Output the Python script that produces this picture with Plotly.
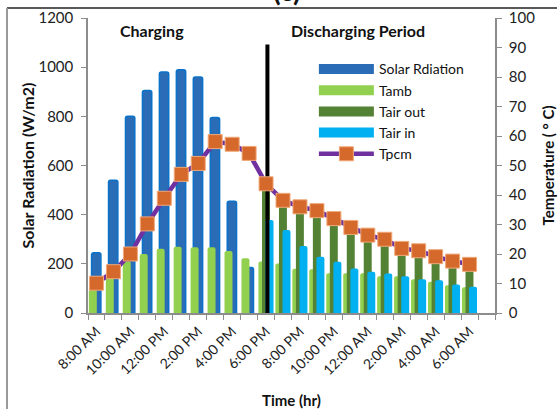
import plotly.graph_objects as go

# ---- data -------------------------------------------------------------
hours = [
    "8:00 AM", "9:00 AM", "10:00 AM", "11:00 AM", "12:00 PM", "1:00 PM",
    "2:00 PM", "3:00 PM", "4:00 PM", "5:00 PM", "6:00 PM", "7:00 PM",
    "8:00 PM", "9:00 PM", "10:00 PM", "11:00 PM", "12:00 AM", "1:00 AM",
    "2:00 AM", "3:00 AM", "4:00 AM", "5:00 AM", "6:00 AM", "7:00 AM",
]

# solar radiation, W/m2 (charging hours only)
solar = [245, 540, 800, 905, 980, 990, 960, 795, 455, 185]

# temperatures, deg C
tamb = [8, 13, 17.5, 20, 21.8, 22.5, 22.3, 22.3, 21, 18.6, 17.5, 16.8,
        15, 14.8, 13.5, 13.5, 13.5, 12.5, 12.5, 11.4, 10.6, 9.4, 8.7]
tair_out = [None] * 10 + [42.3, 36.7, 34.5, 33.2, 30.5, 27.5, 25, 23.5,
                          20.4, 19.6, 17.6, 16.1, 15]
tair_in = [None] * 10 + [31.5, 28.1, 22.7, 19.1, 17.4, 15.1, 14.0, 13.4,
                         12.5, 11.4, 11.1, 9.7, 8.9]
tpcm = [10.1, 14.0, 20.0, 30.2, 38.9, 47.0, 50.7, 58.1, 57.2, 54.1, 43.8,
        38.2, 36.0, 34.7, 32.0, 29.0, 26.4, 25.0, 21.9, 21.1, 19.1, 17.6, 16.5]

# ---- layout constants ---------------------------------------------------
FONT = "Lato"
AXIS_GREY = "#8c8c8c"
SWITCH_X = 10.08      # charging / discharging boundary on the hour axis
SWITCH_TOP = 91       # height of the boundary line on the deg C axis

C_SOLAR = "#2b6cb6"
C_SOLAR_EDGE = "#0a72c8"
C_TAMB = "#92d050"
C_TOUT = "#548235"
C_TIN = "#00b0f0"
C_TPCM = "#7030a0"
C_MARK = "#d5692b"

n = len(hours)
pos = list(range(n))
BAR_W = 0.47

fig = go.Figure()

# solar radiation on the left axis
fig.add_trace(go.Bar(
    x=pos[:len(solar)], y=solar, yaxis="y",
    offset=-0.29, width=0.55,
    marker=dict(color=C_SOLAR, line=dict(color=C_SOLAR_EDGE, width=1.5),
                cornerradius=2),
    showlegend=False, name="Solar Rdiation",
))

# temperature bars on the right axis, overlapping clusters
for vals, off, col, nm in [
    (tamb, -0.45, C_TAMB, "Tamb"),
    (tair_out, -0.24, C_TOUT, "Tair out"),
    (tair_in, -0.03, C_TIN, "Tair in"),
]:
    fig.add_trace(go.Bar(
        x=pos[:len(vals)], y=vals, yaxis="y2",
        offset=off, width=BAR_W,
        marker=dict(color=col, line=dict(width=0), cornerradius=2),
        showlegend=False, name=nm,
    ))

# legend swatches for the bar series
for nm, col in [("Solar Rdiation", C_SOLAR), ("Tamb", C_TAMB),
                ("Tair out", C_TOUT), ("Tair in", C_TIN)]:
    fig.add_trace(go.Scatter(
        x=[None], y=[None], yaxis="y2", mode="lines", name=nm,
        line=dict(color=col, width=12),
    ))

# boundary between charging and discharging
fig.add_trace(go.Scatter(
    x=[SWITCH_X, SWITCH_X], y=[0, SWITCH_TOP], yaxis="y2",
    mode="lines", line=dict(color="black", width=4),
    showlegend=False, hoverinfo="skip",
))

# PCM temperature
fig.add_trace(go.Scatter(
    x=pos[:len(tpcm)], y=tpcm, yaxis="y2", name="Tpcm",
    mode="lines+markers",
    line=dict(color=C_TPCM, width=4.5),
    marker=dict(symbol="square", size=14, color=C_MARK,
                line=dict(color="#f0a878", width=1)),
))

tick_font = dict(family=FONT, size=14, color="#222")
title_font = dict(family=FONT, size=15, color="#111")

fig.update_layout(
    width=557, height=409,
    margin=dict(l=88, r=62, t=18, b=96),
    paper_bgcolor="white", plot_bgcolor="white",
    barmode="overlay",
    font=dict(family=FONT, color="#111"),
    xaxis=dict(
        range=[-0.5, n - 0.5], showgrid=False, zeroline=False,
        automargin=False,
        showline=True, linecolor=AXIS_GREY, linewidth=1.5,
        tickvals=pos[::2], ticktext=hours[::2], tickangle=-45,
        ticks="outside", ticklen=0, tickfont=tick_font,
        ticklabelstandoff=3,
        minor=dict(tickvals=[p - 0.5 for p in range(n + 1)],
                   ticks="outside", ticklen=5, tickcolor=AXIS_GREY,
                   tickwidth=1, showgrid=False),
        title=dict(text="<b>Time (hr)</b>", font=title_font, standoff=20),
    ),
    yaxis=dict(
        range=[0, 1200], dtick=200, showgrid=False, zeroline=False,
        automargin=False,
        showline=True, linecolor=AXIS_GREY, linewidth=1.5,
        ticks="outside", ticklen=5, tickcolor=AXIS_GREY,
        tickfont=dict(family=FONT, size=15, color="#222"),
        ticklabelstandoff=5,
        title=dict(text="<b>Solar Radiation (W/m2)</b>",
                   font=dict(family=FONT, size=16, color="#111"),
                   standoff=0),
    ),
    yaxis2=dict(
        range=[0, 100], dtick=10, overlaying="y", side="right",
        anchor="x", showgrid=False, zeroline=False, automargin=False,
        showline=True, linecolor=AXIS_GREY, linewidth=1.5,
        ticks="outside", ticklen=5, tickcolor=AXIS_GREY,
        tickfont=dict(family=FONT, size=15, color="#222"),
        ticklabelstandoff=4,
        title=dict(text="<b>Temperature ( ° C)</b>", font=title_font,
                   standoff=12),
    ),
    legend=dict(
        x=0.555, y=0.88, xanchor="left", yanchor="top",
        bgcolor="rgba(0,0,0,0)", font=dict(family=FONT, size=14, color="#111"),
        itemwidth=55, tracegroupgap=0,
    ),
    showlegend=True,
)

fig.add_annotation(text="<b>Charging</b>", x=0.157, y=0.956,
                   xref="paper", yref="paper", showarrow=False,
                   xanchor="center", yanchor="middle",
                   font=dict(family=FONT, size=16, color="#111"))
fig.add_annotation(text="<b>Discharging Period</b>", x=0.663, y=0.956,
                   xref="paper", yref="paper", showarrow=False,
                   xanchor="center", yanchor="middle",
                   font=dict(family=FONT, size=16, color="#111"))
fig.add_annotation(text="<b>(c)</b>", x=0.489, y=1.03,
                   xref="paper", yref="paper", showarrow=False,
                   xanchor="center", yanchor="bottom",
                   font=dict(family=FONT, size=28, color="#111"))

# chart frame (top and left edges)
fig.add_shape(type="line", xref="paper", yref="paper",
              x0=-0.199, x1=1.2, y0=1.034, y1=1.034,
              line=dict(color="#222", width=1.5))
fig.add_shape(type="line", xref="paper", yref="paper",
              x0=-0.199, x1=-0.199, y0=1.034, y1=-0.4,
              line=dict(color="#9a9a9a", width=2))

fig.write_html("out.html")
